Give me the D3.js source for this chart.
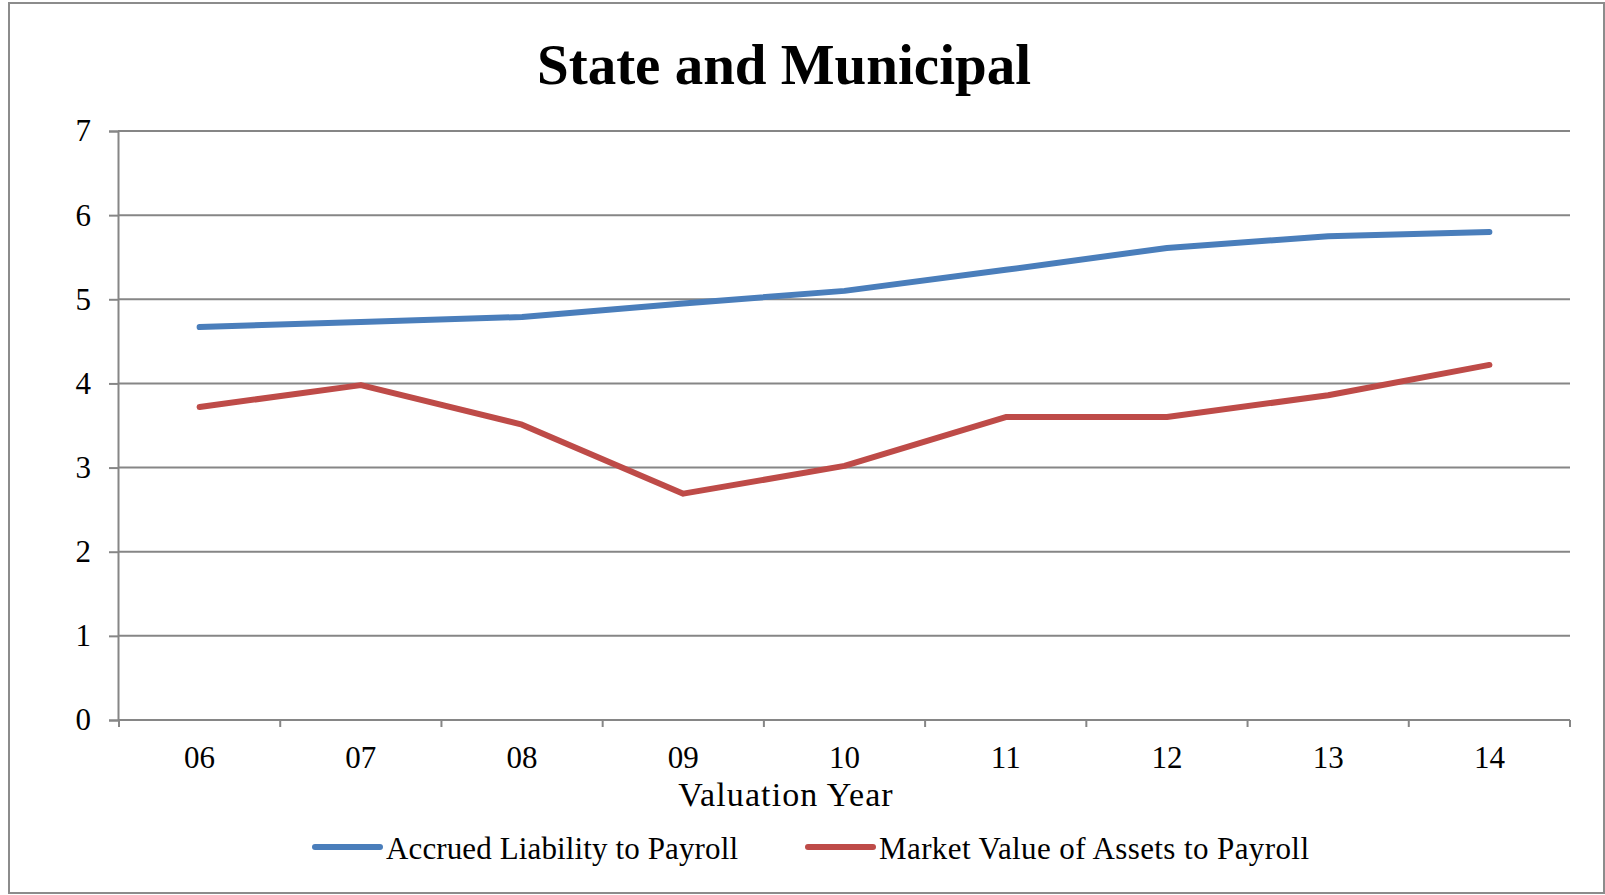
<!DOCTYPE html>
<html>
<head>
<meta charset="utf-8">
<script src="https://cdn.jsdelivr.net/npm/d3@7"></script>
<style>
  body { margin: 0; background: #fff; }
  svg { display: block; }
  text { font-family: "Liberation Serif", "Times New Roman", serif; fill: #000; }
</style>
</head>
<body>
<svg id="chart" width="1605" height="895"></svg>
<script>
// data
const years = ['06', '07', '08', '09', '10', '11', '12', '13', '14'];
const accruedLiability = [4.67, 4.73, 4.79, 4.95, 5.10, 5.35, 5.61, 5.75, 5.80];
const marketValue = [3.72, 3.98, 3.51, 2.69, 3.02, 3.60, 3.60, 3.86, 4.22];
const yTicks = [0, 1, 2, 3, 4, 5, 6, 7];

const seriesList = [
  { name: 'Accrued Liability to Payroll', values: accruedLiability, color: '#4A7EBB' },
  { name: 'Market Value of Assets to Payroll', values: marketValue, color: '#BE4B48' }
];

const svg = d3.select('#chart');
const gridColor = '#868686';

// outer frame
svg.append('rect')
  .attr('x', 9).attr('y', 3)
  .attr('width', 1595).attr('height', 890)
  .attr('fill', 'none')
  .attr('stroke', '#8c8c8c')
  .attr('stroke-width', 2);

const plot = { left: 118, right: 1570, top: 131, bottom: 720 };

const x = d3.scaleBand()
  .domain(years)
  .range([plot.left + 1, plot.right])
  .padding(0);

const y = d3.scaleLinear()
  .domain([0, 7])
  .range([plot.bottom, plot.top]);

// title
svg.append('text')
  .attr('x', 784)
  .attr('y', 84)
  .attr('text-anchor', 'middle')
  .attr('font-size', 57)
  .attr('font-weight', 'bold')
  .text('State and Municipal');

// horizontal gridlines
svg.append('g')
  .selectAll('line')
  .data(yTicks)
  .join('line')
  .attr('x1', plot.left)
  .attr('x2', plot.right)
  .attr('y1', d => y(d))
  .attr('y2', d => y(d))
  .attr('stroke', gridColor)
  .attr('stroke-width', 2);

// y axis
const yAxis = svg.append('g')
  .attr('transform', `translate(${plot.left},0)`)
  .call(d3.axisLeft(y).tickValues(yTicks).tickSize(9).tickPadding(18).tickFormat(d3.format('d')));
yAxis.select('.domain').attr('stroke', gridColor).attr('stroke-width', 2);
yAxis.selectAll('.tick line').attr('stroke', gridColor).attr('stroke-width', 2);
yAxis.selectAll('.tick text')
  .attr('font-family', '"Liberation Serif", serif')
  .attr('font-size', 31)
  .attr('fill', '#000');

// x axis ticks sit on the category boundaries
const bounds = years.map(d => x(d)).concat([x.range()[1]]);
svg.append('g')
  .selectAll('line')
  .data(bounds)
  .join('line')
  .attr('x1', d => d).attr('x2', d => d)
  .attr('y1', plot.bottom).attr('y2', plot.bottom + 7)
  .attr('stroke', gridColor)
  .attr('stroke-width', 2);

svg.append('g')
  .selectAll('text')
  .data(years)
  .join('text')
  .attr('x', d => x(d) + x.bandwidth() / 2)
  .attr('y', 768)
  .attr('text-anchor', 'middle')
  .attr('font-size', 31)
  .text(d => d);

svg.append('text')
  .attr('x', 786)
  .attr('y', 806)
  .attr('text-anchor', 'middle')
  .attr('font-size', 34)
  .attr('letter-spacing', 1.1)
  .text('Valuation Year');

// lines
const line = d3.line()
  .x((d, i) => x(years[i]) + x.bandwidth() / 2)
  .y(d => y(d));

svg.append('g')
  .selectAll('path')
  .data(seriesList)
  .join('path')
  .attr('d', d => line(d.values))
  .attr('fill', 'none')
  .attr('stroke', d => d.color)
  .attr('stroke-width', 6)
  .attr('stroke-linecap', 'round')
  .attr('stroke-linejoin', 'round');

// legend
const legendX = [315, 808];
const legendTextWidth = [352, 430];
const legend = svg.append('g')
  .selectAll('g')
  .data(seriesList)
  .join('g')
  .attr('transform', (d, i) => `translate(${legendX[i]},847)`);

legend.append('line')
  .attr('x1', 0).attr('x2', 65)
  .attr('y1', 0).attr('y2', 0)
  .attr('stroke', d => d.color)
  .attr('stroke-width', 6)
  .attr('stroke-linecap', 'round');

legend.append('text')
  .attr('x', 71)
  .attr('y', 12)
  .attr('font-size', 31)
  .attr('textLength', (d, i) => legendTextWidth[i])
  .attr('lengthAdjust', 'spacing')
  .text(d => d.name);
</script>
</body>
</html>
